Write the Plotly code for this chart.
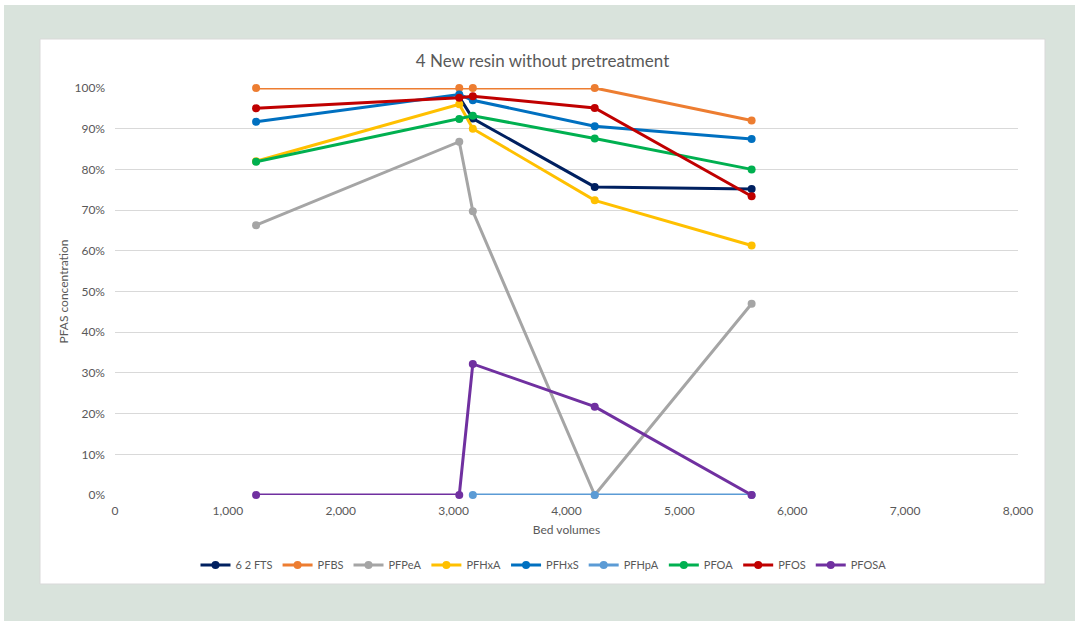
import plotly.graph_objects as go

# Data
bed_volumes = [1250, 3050, 3170, 4250, 5640]
series_names = ["6 2 FTS", "PFBS", "PFPeA", "PFHxA", "PFHxS", "PFHpA", "PFOA", "PFOS", "PFOSA"]
fts62 = [None, 0.978, 0.925, 0.757, 0.752]
pfbs = [1.00, 1.00, 1.00, 1.00, 0.92]
pfpea = [0.663, 0.868, 0.697, 0.0, 0.47]
pfhxa = [0.82, 0.96, 0.90, 0.724, 0.613]
pfhxs = [0.917, 0.984, 0.97, 0.906, 0.875]
pfhpa = [None, None, 0.0, 0.0, 0.0]
pfoa = [0.819, 0.924, 0.932, 0.876, 0.80]
pfos = [0.95, 0.976, 0.98, 0.951, 0.734]
pfosa = [0.0, 0.0, 0.322, 0.217, 0.0]

series_values = [fts62, pfbs, pfpea, pfhxa, pfhxs, pfhpa, pfoa, pfos, pfosa]
colors = ["#002060", "#ED7D31", "#A5A5A5", "#FFC000", "#0070C0", "#5B9BD5", "#00B050", "#C00000", "#7030A0"]

FONT = "Lato, 'Open Sans', sans-serif"

fig = go.Figure()
for name, vals, col in zip(series_names, series_values, colors):
    xs = [x for x, v in zip(bed_volumes, vals) if v is not None]
    ys = [v for v in vals if v is not None]
    fig.add_trace(go.Scatter(
        x=xs, y=ys, name=name, mode="lines+markers",
        line=dict(color=col, width=3),
        marker=dict(color=col, size=8),
        cliponaxis=False,
    ))

# pixel helpers for paper coords (plot area x:115-1018, y:88-495)
def px_x(p):
    return (p - 115) / 903.0

def px_y(p):
    return (495 - p) / 407.0

shapes = [
    dict(type="rect", xref="paper", yref="paper", layer="below",
         x0=px_x(4), x1=px_x(1080), y0=px_y(5), y1=px_y(630),
         fillcolor="#D9E3DC", line=dict(width=0)),
    dict(type="rect", xref="paper", yref="paper", layer="below",
         x0=px_x(40), x1=px_x(1045), y0=px_y(39), y1=px_y(584),
         fillcolor="#FFFFFF", line=dict(color="#D9D9D9", width=1)),
]

fig.update_layout(
    width=1075, height=621,
    margin=dict(l=115, r=57, t=88, b=126),
    paper_bgcolor="#FFFFFF",
    plot_bgcolor="#FFFFFF",
    shapes=shapes,
    font=dict(family=FONT, color="#595959", size=12),
    title=dict(text="4 New resin without pretreatment", x=542.5/1075, xref="container",
               xanchor="center", y=1 - 61/621, yref="container", yanchor="middle",
               font=dict(family=FONT, size=17, color="#595959")),
    xaxis=dict(range=[0, 8000], dtick=1000, tickformat=",", showgrid=False,
               zeroline=False, showline=False, ticks="", ticklabelstandoff=7,
               tickfont=dict(size=12, color="#595959"),
               title=dict(text="Bed volumes", font=dict(size=12, color="#595959"), standoff=8)),
    yaxis=dict(range=[0, 1.0], dtick=0.1, tickformat=".0%", showgrid=True,
               gridcolor="#D9D9D9", gridwidth=1, zeroline=False, showline=False,
               ticks="", ticklabelstandoff=9,
               tickfont=dict(size=12, color="#595959"),
               title=dict(text="PFAS concentration", font=dict(size=12, color="#595959"), standoff=3)),
    legend=dict(orientation="h", x=0.5 - 23/903, xanchor="center", y=px_y(565), yanchor="middle",
                font=dict(size=11, color="#595959"), bgcolor="rgba(0,0,0,0)",
                itemwidth=30),
    showlegend=True,
)

fig.write_html("out.html", config={"displayModeBar": False},
               post_script="document.body.style.margin='0';document.body.style.overflow='hidden';")
